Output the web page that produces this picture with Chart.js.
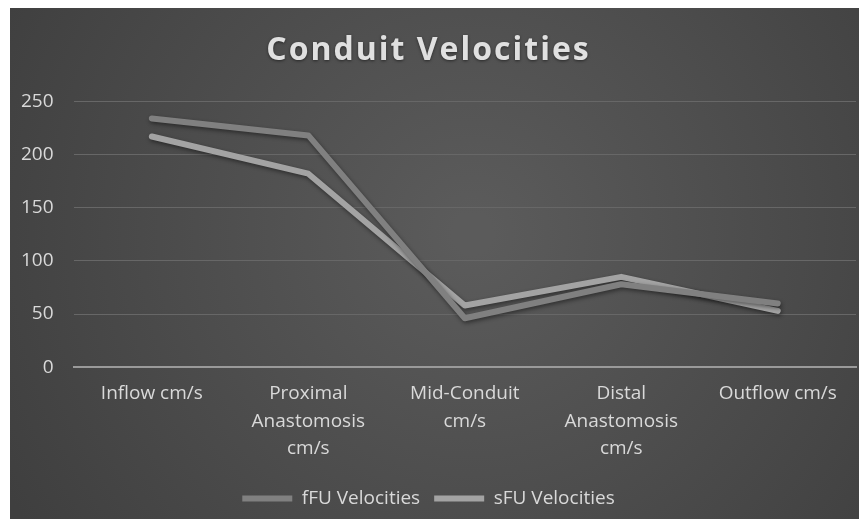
<!DOCTYPE html>
<html>
<head>
<meta charset="utf-8">
<script src="https://cdn.jsdelivr.net/npm/chart.js@4.4.1/dist/chart.umd.min.js"></script>
<style>
html,body{margin:0;padding:0;background:#fff;overflow:hidden;}
#wrap{width:859px;height:519px;position:relative;}
canvas{display:block;}
</style>
</head>
<body>
<div id="wrap"><canvas id="c" width="859" height="519"></canvas></div>
<script>
const categories = [
  "Inflow cm/s",
  ["Proximal", "Anastomosis", "cm/s"],
  ["Mid-Conduit", "cm/s"],
  ["Distal", "Anastomosis", "cm/s"],
  "Outflow cm/s"
];
const fFU = [234, 218, 46, 78, 60];
const sFU = [217, 182, 58, 85, 53];
const yTicks = [0, 50, 100, 150, 200, 250];

const bgPlugin = {
  id: 'bg',
  beforeDraw(chart) {
    const ctx = chart.ctx;
    const w = chart.width, h = chart.height;
    ctx.save();
    ctx.fillStyle = '#ffffff';
    ctx.fillRect(0, 0, w, h);
    const g = ctx.createRadialGradient(w * 0.55, h * 0.45, 20, w * 0.55, h * 0.45, w * 0.62);
    g.addColorStop(0, '#5b5b5b');
    g.addColorStop(1, '#3f3f3f');
    ctx.fillStyle = g;
    ctx.fillRect(10, 8, w - 10, h - 8);
    ctx.restore();
    // letter-spaced title
    const tb = chart.titleBlock;
    if (tb && !tb._spaced) {
      const orig = tb.draw.bind(tb);
      tb.draw = function (area) {
        const c = this.ctx;
        c.save();
        c.letterSpacing = '2px';
        c.shadowColor = 'rgba(0,0,0,0.5)';
        c.shadowBlur = 3;
        c.shadowOffsetY = 1;
        orig(area);
        c.restore();
      };
      tb._spaced = true;
    }
  }
};
const shadowPlugin = {
  id: 'shadow',
  beforeDatasetsDraw(chart) {
    const ctx = chart.ctx;
    ctx.save();
    ctx.shadowColor = 'rgba(0,0,0,0.45)';
    ctx.shadowBlur = 4;
    ctx.shadowOffsetX = 1;
    ctx.shadowOffsetY = 2;
  },
  afterDatasetsDraw(chart) {
    chart.ctx.restore();
  }
};

new Chart(document.getElementById('c'), {
  type: 'line',
  data: {
    labels: categories,
    datasets: [
      { label: 'fFU Velocities', data: fFU, borderColor: '#808080', backgroundColor: '#808080',
        borderWidth: 6, pointRadius: 0, borderCapStyle: 'round', borderJoinStyle: 'round', tension: 0 },
      { label: 'sFU Velocities', data: sFU, borderColor: '#a3a3a3', backgroundColor: '#a3a3a3',
        borderWidth: 6, pointRadius: 0, borderCapStyle: 'round', borderJoinStyle: 'round', tension: 0 }
    ]
  },
  options: {
    responsive: false,
    animation: false,
    devicePixelRatio: 1,
    layout: { padding: { left: 1, right: 3, top: 8, bottom: 1 } },
    plugins: {
      title: {
        display: true,
        text: 'Conduit Velocities',
        color: '#e0e0e0',
        font: { family: 'Open Sans', size: 32, weight: 'bold', lineHeight: 1.2 },
        padding: { top: 24, bottom: 31 }
      },
      legend: {
        position: 'bottom',
        labels: {
          color: '#d9d9d9',
          font: { family: 'Open Sans', size: 19 },
          usePointStyle: true,
          pointStyle: 'line',
          pointStyleWidth: 50,
          boxHeight: 6,
          padding: 14
        }
      },
      tooltip: { enabled: false }
    },
    scales: {
      x: {
        offset: true,
        grid: { display: false, drawTicks: false, offset: true },
        border: { display: true, color: '#9a9a9a', width: 2 },
        ticks: {
          color: '#d9d9d9',
          font: { family: 'Open Sans', size: 19, lineHeight: 1.47 },
          maxRotation: 0, autoSkip: false, padding: 12
        }
      },
      y: {
        min: 0, max: 250,
        afterBuildTicks(scale) { scale.ticks = yTicks.map(v => ({ value: v })); },
        grid: { color: '#676767', lineWidth: 1, drawTicks: false },
        border: { display: false },
        ticks: {
          color: '#d9d9d9',
          font: { family: 'Open Sans', size: 19 },
          padding: 20
        }
      }
    }
  },
  plugins: [bgPlugin, shadowPlugin]
});
</script>
</body>
</html>
